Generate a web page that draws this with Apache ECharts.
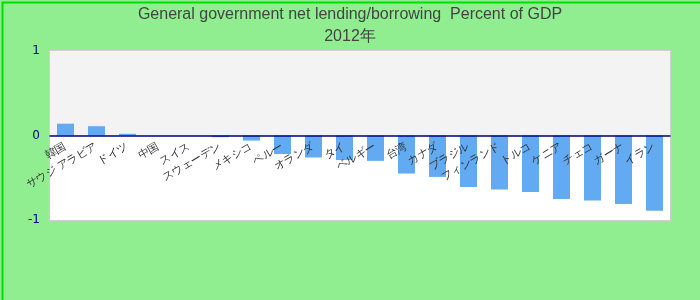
<!DOCTYPE html>
<html>
<head>
<meta charset="utf-8">
<script src="https://cdn.jsdelivr.net/npm/echarts@6/dist/echarts.min.js"></script>
<style>
html,body{margin:0;padding:0;background:#90ee90;}
#chart{width:700px;height:300px;}
</style>
</head>
<body>
<div id="chart"></div>
<script>
const titleText = 'General government net lending/borrowing  Percent of GDP';
const subtitleText = '2012年';
const categories = ['韓国', 'サウジ アラビア', 'ドイツ', '中国', 'スイス', 'スウェーデン', 'メキシコ', 'ペルー', 'オランダ', 'タイ', 'ベルギー', '台湾', 'カナダ', 'ブラジル', 'フィンランド', 'トルコ', 'ケニア', 'チェコ', 'ガーナ', 'イラン'];
const values = [0.14, 0.11, 0.02, 0, 0, -0.02, -0.06, -0.22, -0.26, -0.29, -0.30, -0.45, -0.49, -0.61, -0.64, -0.67, -0.75, -0.77, -0.81, -0.89];
const yMin = -1, yMax = 1, yInterval = 1;

const gridTop = 51, gridBottom = 80, chartH = 300;
const plotH = chartH - gridTop - gridBottom;
const zeroOffset = -plotH * (0 - yMin) / (yMax - yMin);

const chart = echarts.init(document.getElementById('chart'));
chart.setOption({
  backgroundColor: '#90ee90',
  animation: false,
  title: {
    text: titleText,
    subtext: subtitleText,
    left: 'center',
    top: 2,
    itemGap: 6,
    textStyle: {fontFamily: 'Liberation Sans', fontSize: 16, fontWeight: 'normal', color: '#444'},
    subtextStyle: {fontFamily: 'Liberation Sans', fontSize: 16, color: '#444'}
  },
  graphic: [{
    type: 'rect', left: 0, top: 0, z: 100, silent: true,
    shape: {x: 0, y: 0, width: 700, height: 300},
    style: {fill: 'none', stroke: '#00e000', lineWidth: 2}
  }],
  grid: {
    left: 50, right: 30, top: gridTop, bottom: gridBottom,
    show: true, borderColor: '#d0d0d0', borderWidth: 2, backgroundColor: 'transparent'
  },
  xAxis: {
    type: 'category',
    data: categories,
    position: 'bottom',
    offset: zeroOffset,
    z: 10,
    axisLine: {onZero: false, lineStyle: {color: '#000080', width: 1.5}},
    axisTick: {show: false},
    axisLabel: {interval: 0, rotate: 30, color: '#333', fontSize: 11, margin: 10}
  },
  yAxis: {
    type: 'value',
    min: yMin, max: yMax, interval: yInterval,
    axisLine: {show: false},
    axisTick: {show: false},
    splitLine: {show: false},
    splitArea: {show: true, areaStyle: {color: ['#ffffff', '#f3f3f3']}},
    axisLabel: {color: '#00008b', fontFamily: 'DejaVu Sans', fontSize: 12, margin: 10}
  },
  series: [{
    type: 'bar',
    data: values,
    barWidth: 17,
    z: 2,
    itemStyle: {color: '#62aaf2'}
  }]
});
</script>
</body>
</html>
